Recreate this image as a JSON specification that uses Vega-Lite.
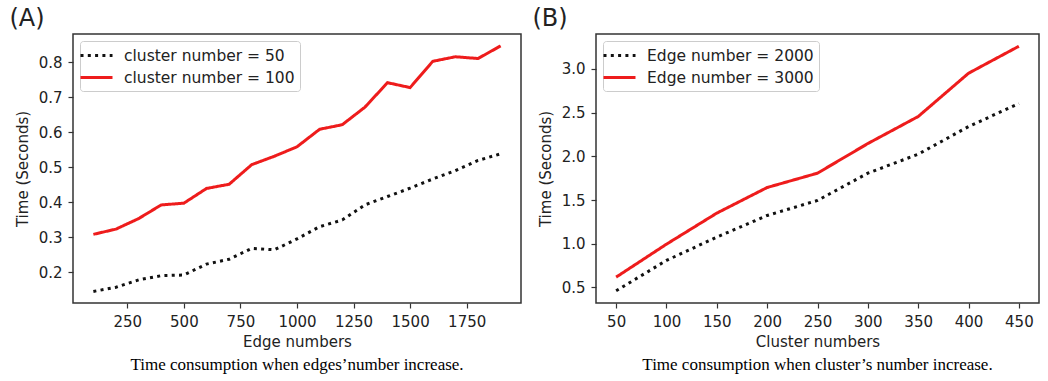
{
  "$schema": "https://vega.github.io/schema/vega-lite/v6.json",
  "padding": {"left": 9, "top": 7, "right": 3, "bottom": 0},
  "background": "white",
  "datasets": {
    "a": [
      {"edges": 100, "time": 0.145, "series": "cluster number = 50"},
      {"edges": 200, "time": 0.157, "series": "cluster number = 50"},
      {"edges": 300, "time": 0.178, "series": "cluster number = 50"},
      {"edges": 400, "time": 0.19, "series": "cluster number = 50"},
      {"edges": 500, "time": 0.192, "series": "cluster number = 50"},
      {"edges": 600, "time": 0.223, "series": "cluster number = 50"},
      {"edges": 700, "time": 0.237, "series": "cluster number = 50"},
      {"edges": 800, "time": 0.268, "series": "cluster number = 50"},
      {"edges": 900, "time": 0.264, "series": "cluster number = 50"},
      {"edges": 1000, "time": 0.295, "series": "cluster number = 50"},
      {"edges": 1100, "time": 0.33, "series": "cluster number = 50"},
      {"edges": 1200, "time": 0.349, "series": "cluster number = 50"},
      {"edges": 1300, "time": 0.392, "series": "cluster number = 50"},
      {"edges": 1400, "time": 0.416, "series": "cluster number = 50"},
      {"edges": 1500, "time": 0.44, "series": "cluster number = 50"},
      {"edges": 1600, "time": 0.466, "series": "cluster number = 50"},
      {"edges": 1700, "time": 0.49, "series": "cluster number = 50"},
      {"edges": 1800, "time": 0.519, "series": "cluster number = 50"},
      {"edges": 1900, "time": 0.538, "series": "cluster number = 50"},
      {"edges": 100, "time": 0.308, "series": "cluster number = 100"},
      {"edges": 200, "time": 0.323, "series": "cluster number = 100"},
      {"edges": 300, "time": 0.353, "series": "cluster number = 100"},
      {"edges": 400, "time": 0.392, "series": "cluster number = 100"},
      {"edges": 500, "time": 0.397, "series": "cluster number = 100"},
      {"edges": 600, "time": 0.439, "series": "cluster number = 100"},
      {"edges": 700, "time": 0.451, "series": "cluster number = 100"},
      {"edges": 800, "time": 0.507, "series": "cluster number = 100"},
      {"edges": 900, "time": 0.531, "series": "cluster number = 100"},
      {"edges": 1000, "time": 0.558, "series": "cluster number = 100"},
      {"edges": 1100, "time": 0.608, "series": "cluster number = 100"},
      {"edges": 1200, "time": 0.621, "series": "cluster number = 100"},
      {"edges": 1300, "time": 0.671, "series": "cluster number = 100"},
      {"edges": 1400, "time": 0.741, "series": "cluster number = 100"},
      {"edges": 1500, "time": 0.727, "series": "cluster number = 100"},
      {"edges": 1600, "time": 0.802, "series": "cluster number = 100"},
      {"edges": 1700, "time": 0.815, "series": "cluster number = 100"},
      {"edges": 1800, "time": 0.81, "series": "cluster number = 100"},
      {"edges": 1900, "time": 0.846, "series": "cluster number = 100"}
    ],
    "b": [
      {"clusters": 50, "time": 0.462, "series": "Edge number = 2000"},
      {"clusters": 100, "time": 0.809, "series": "Edge number = 2000"},
      {"clusters": 150, "time": 1.076, "series": "Edge number = 2000"},
      {"clusters": 200, "time": 1.323, "series": "Edge number = 2000"},
      {"clusters": 250, "time": 1.495, "series": "Edge number = 2000"},
      {"clusters": 300, "time": 1.807, "series": "Edge number = 2000"},
      {"clusters": 350, "time": 2.024, "series": "Edge number = 2000"},
      {"clusters": 400, "time": 2.34, "series": "Edge number = 2000"},
      {"clusters": 450, "time": 2.604, "series": "Edge number = 2000"},
      {"clusters": 50, "time": 0.618, "series": "Edge number = 3000"},
      {"clusters": 100, "time": 0.995, "series": "Edge number = 3000"},
      {"clusters": 150, "time": 1.35, "series": "Edge number = 3000"},
      {"clusters": 200, "time": 1.643, "series": "Edge number = 3000"},
      {"clusters": 250, "time": 1.807, "series": "Edge number = 3000"},
      {"clusters": 300, "time": 2.146, "series": "Edge number = 3000"},
      {"clusters": 350, "time": 2.455, "series": "Edge number = 3000"},
      {"clusters": 400, "time": 2.95, "series": "Edge number = 3000"},
      {"clusters": 450, "time": 3.259, "series": "Edge number = 3000"}
    ]
  },
  "config": {
    "font": "DejaVu Sans",
    "view": {"stroke": "#333333", "strokeWidth": 1.5},
    "axis": {
      "grid": false,
      "domain": false,
      "tickColor": "#333333",
      "tickSize": 5,
      "tickWidth": 1.2,
      "labelFont": "DejaVu Sans",
      "labelFontSize": 15,
      "labelColor": "#222222",
      "titleFont": "DejaVu Sans",
      "titleFontSize": 15,
      "titleFontWeight": "normal",
      "titleColor": "#222222"
    },
    "axisX": {"titlePadding": 5, "labelPadding": 6},
    "axisY": {"titlePadding": 8, "labelPadding": 6},
    "legend": {
      "orient": "none",
      "legendX": 7,
      "legendY": 7,
      "padding": 5,
      "strokeColor": "#cccccc",
      "fillColor": "white",
      "cornerRadius": 3,
      "symbolType": "M-2,0H2",
      "symbolSize": 256,
      "symbolStrokeWidth": 3,
      "symbolOffset": 2,
      "labelFont": "DejaVu Sans",
      "labelFontSize": 15.5,
      "labelColor": "#222222",
      "labelOffset": 18,
      "labelLimit": 400,
      "rowPadding": 4,
      "title": null
    },
    "title": {"font": "DejaVu Sans", "fontWeight": "normal", "color": "#222222"},
    "concat": {"spacing": 10}
  },
  "hconcat": [
    {
      "title": {"text": "(A)", "anchor": "start", "frame": "bounds", "fontSize": 24, "dx": -5, "offset": 2},
      "vconcat": [
        {
          "width": 448,
          "height": 269,
          "title": {"text": "Time consumption when edges’number increase.", "orient": "bottom", "anchor": "middle", "frame": "group", "font": "Liberation Serif", "fontSize": 17, "color": "black", "offset": 8},
          "data": {"name": "a"},
          "mark": {"type": "line", "strokeWidth": 3, "strokeCap": "butt"},
          "encoding": {
            "x": {"field": "edges", "type": "quantitative", "title": "Edge numbers",
                  "scale": {"domain": [10, 1990], "nice": false, "zero": false},
                  "axis": {"values": [250, 500, 750, 1000, 1250, 1500, 1750], "format": "d"}},
            "y": {"field": "time", "type": "quantitative", "title": "Time (Seconds)",
                  "scale": {"domain": [0.112, 0.88], "nice": false, "zero": false},
                  "axis": {"values": [0.2, 0.3, 0.4, 0.5, 0.6, 0.7, 0.8], "format": ".1f"}},
            "color": {"field": "series", "type": "nominal",
                      "scale": {"domain": ["cluster number = 50", "cluster number = 100"], "range": ["#111111", "#ee1c1c"]}},
            "strokeDash": {"field": "series", "type": "nominal",
                      "scale": {"domain": ["cluster number = 50", "cluster number = 100"], "range": [[3, 4.3], [1, 0]]}}
          }
        }
      ]
    },
    {
      "title": {"text": "(B)", "anchor": "start", "frame": "bounds", "fontSize": 24, "dx": -5, "offset": 2},
      "vconcat": [
        {
          "width": 443,
          "height": 269,
          "title": {"text": "Time consumption when cluster’s number increase.", "orient": "bottom", "anchor": "middle", "frame": "group", "font": "Liberation Serif", "fontSize": 17, "color": "black", "offset": 8},
          "data": {"name": "b"},
          "mark": {"type": "line", "strokeWidth": 3, "strokeCap": "butt"},
          "encoding": {
            "x": {"field": "clusters", "type": "quantitative", "title": "Cluster numbers",
                  "scale": {"domain": [30, 470], "nice": false, "zero": false},
                  "axis": {"values": [50, 100, 150, 200, 250, 300, 350, 400, 450], "format": "d"}},
            "y": {"field": "time", "type": "quantitative", "title": "Time (Seconds)",
                  "scale": {"domain": [0.322, 3.399], "nice": false, "zero": false},
                  "axis": {"values": [0.5, 1.0, 1.5, 2.0, 2.5, 3.0], "format": ".1f"}},
            "color": {"field": "series", "type": "nominal",
                      "scale": {"domain": ["Edge number = 2000", "Edge number = 3000"], "range": ["#111111", "#ee1c1c"]}},
            "strokeDash": {"field": "series", "type": "nominal",
                      "scale": {"domain": ["Edge number = 2000", "Edge number = 3000"], "range": [[3, 4.3], [1, 0]]}}
          }
        }
      ]
    }
  ],
  "resolve": {"scale": {"color": "independent", "strokeDash": "independent"}, "legend": {"color": "independent", "strokeDash": "independent"}}
}
